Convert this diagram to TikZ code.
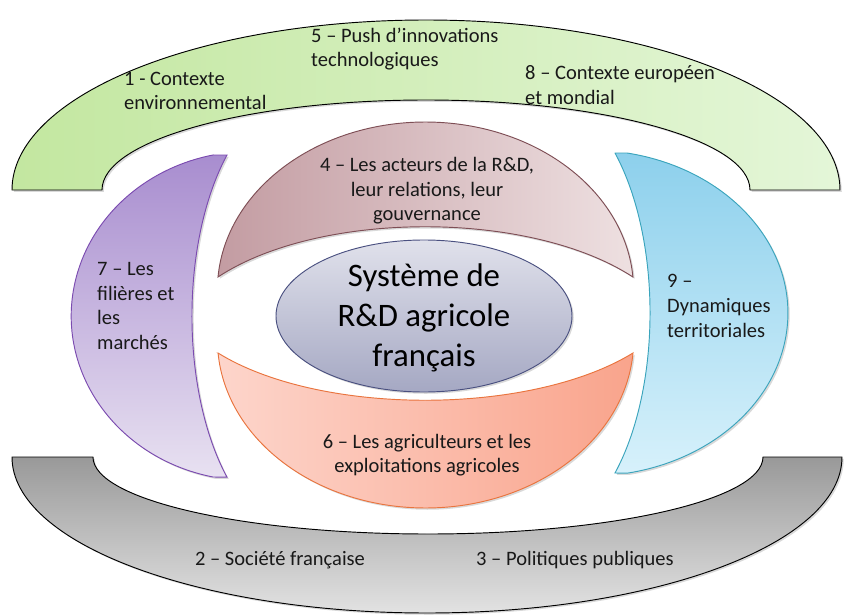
\documentclass[tikz,border=0pt]{standalone}
\usepackage{fontspec}
\setmainfont{Carlito}
\usepackage{xcolor}
\usetikzlibrary{shadows}
\definecolor{greenL}{HTML}{C3E7A0}
\definecolor{greenR}{HTML}{E4F6D8}
\definecolor{greyT}{HTML}{999999}
\definecolor{greyB}{HTML}{E2E2E2}
\definecolor{purpT}{HTML}{A88DCF}
\definecolor{purpB}{HTML}{E8E1F1}
\definecolor{purpD}{HTML}{7B4BB0}
\definecolor{blueT}{HTML}{8DD0EC}
\definecolor{blueB}{HTML}{D7F1FB}
\definecolor{blueD}{HTML}{3AA4BC}
\definecolor{pinkL}{HTML}{C39CA2}
\definecolor{pinkR}{HTML}{EEE0E1}
\definecolor{pinkD}{HTML}{7E4E55}
\definecolor{oranL}{HTML}{FDD5CB}
\definecolor{oranR}{HTML}{F9A48C}
\definecolor{oranD}{HTML}{E9743E}
\definecolor{ellT}{HTML}{E0E1EB}
\definecolor{ellB}{HTML}{A5A8C3}
\definecolor{ellD}{HTML}{4A5080}
\tikzset{
softshadow/.style={drop shadow={shadow xshift=1.5pt, shadow yshift=-1.5pt, opacity=0.3}},
greenarch/.style={draw=black, thick, left color=greenL, right color=greenR, softshadow},
greyarch/.style={draw=black, thick, top color=greyT, bottom color=greyB, softshadow},
purplemoon/.style={draw=purpD, thick, top color=purpT, bottom color=purpB, softshadow},
bluemoon/.style={draw=blueD, thick, top color=blueT, bottom color=blueB, softshadow},
pinkcap/.style={draw=pinkD, thick, left color=pinkL, right color=pinkR, softshadow},
orangecap/.style={draw=oranD, thick, left color=oranL, right color=oranR, softshadow},
centreell/.style={draw=ellD, thick, top color=ellT, bottom color=ellB, softshadow},
lbl/.style={inner sep=0pt, font=\fontsize{17.5}{21}\selectfont, text=black!90},
lblleft/.style={lbl, anchor=west, align=left},
lblmid/.style={lbl, align=center},
}

\begin{document}
\begin{tikzpicture}[x=0.03cm, y=0.03cm]
    \useasboundingbox (0,0) rectangle (854,-615);
    % outer arches
    \path[greenarch] (12,-190) arc[start angle=180, end angle=0, x radius=414, y radius=170]
        -- (750,-190) arc[start angle=0, end angle=180, x radius=324, y radius=90] -- cycle;
    \path[greyarch] (12,-457) arc[start angle=180, end angle=360, x radius=415, y radius=156]
        -- (763,-457) arc[start angle=360, end angle=180, x radius=335, y radius=77] -- cycle;
    % side crescents
    \path[purplemoon] (213,-155) -- (227,-155) arc[start angle=132.5, end angle=227.5, x radius=108, y radius=218.5]
        -- (213,-477) arc[start angle=258, end angle=102, x radius=179, y radius=164.6] -- cycle;
    \path[bluemoon] (615,-153) -- (627,-153) arc[start angle=79.2, end angle=-79.2, x radius=198, y radius=163]
        -- (615,-473) arc[start angle=-47.5, end angle=47.5, x radius=108, y radius=217] -- cycle;
    % inner caps
    \path[pinkcap] (218,-277) arc[start angle=175.56, end angle=4.44, x radius=208.1, y radius=168]
        .. controls (530,-210) and (320,-210) .. (218,-277) -- cycle;
    \path[orangecap] (218,-353) .. controls (320,-416) and (530,-416) .. (633,-353)
        arc[start angle=-4.44, end angle=-175.56, x radius=208.1, y radius=168] -- cycle;
    % centre
    \path[centreell] (424,-316) ellipse[x radius=148, y radius=76];
    \node[inner sep=0pt, align=center, font=\fontsize{28}{34}\selectfont] at (424,-318) (rdsys) {Système de\\R\&D agricole\\français};
    % labels
    \node[lblleft] at (124,-91) (envctx) {1 - Contexte\\environnemental};
    \node[lblleft] at (311,-49) (pushinno) {5 -- Push d’innovations\\technologiques};
    \node[lblleft] at (525,-85) (euroctx) {8 -- Contexte européen\\et mondial};
    \node[lblleft] at (97,-306) (filieres) {7 -- Les\\filières et\\les\\marchés};
    \node[lblleft] at (667,-306) (territ) {9 --\\Dynamiques\\territoriales};
    \node[lblmid] at (427,-191) (acteurs) {4 -- Les acteurs de la R\&D,\\leur relations, leur\\gouvernance};
    \node[lblmid] at (427,-455) (agri) {6 -- Les agriculteurs et les\\exploitations agricoles};
    \node[lblmid] at (280,-560) (societe) {2 -- Société française};
    \node[lblmid] at (575,-560) (politiq) {3 -- Politiques publiques};
\end{tikzpicture}
\end{document}
